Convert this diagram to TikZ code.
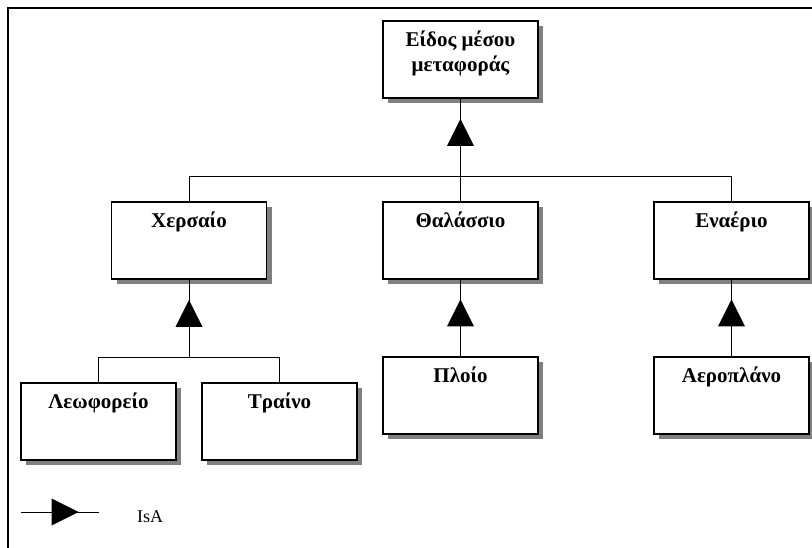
\documentclass[tikz,border=0pt]{standalone}
\usepackage{fontspec}
\setmainfont{Liberation Serif}
\usetikzlibrary{shapes.geometric,shadows,calc}

\tikzset{
  classbox/.style={draw=black, line width=1.2pt, fill=white,
    minimum width=155pt, minimum height=77pt, inner sep=0pt,
    drop shadow={shadow xshift=5pt, shadow yshift=-5pt, fill=black!50, opacity=1}},
  classname/.style={font=\bfseries\fontsize{21}{25}\selectfont, align=center, inner sep=0pt},
  nameline/.style={classname, anchor=base},
  isa/.style={isosceles triangle, isosceles triangle stretches, fill=black,
    inner sep=0pt, minimum width=27pt, minimum height=27pt, shape border rotate=90},
  link/.style={draw=black, line width=1pt},
}

\begin{document}
\begin{tikzpicture}[x=1pt,y=-1pt]
\useasboundingbox (0,0) rectangle (812,548);

% frame
\draw[line width=1.5pt] (8,548) -- (8,8) -- (812,8);

% classes
\node[classbox] (vehicle) at (460.5,59.5) {};
\node[classname] (vehicleT) at ([yshift=-33pt]vehicle.north) {Είδος μέσου\\μεταφοράς};

\node[classbox] (land) at (189,240.5) {};
\node[nameline] (landT) at ([yshift=-26pt]land.north) {Χερσαίο};
\node[classbox] (sea) at (460.5,240.5) {};
\node[nameline] (seaT) at ([yshift=-26pt]sea.north) {Θαλάσσιο};
\node[classbox] (air) at (731.5,240.5) {};
\node[nameline] (airT) at ([yshift=-26pt]air.north) {Εναέριο};

\node[classbox] (bus) at (98.5,421.5) {};
\node[nameline] (busT) at ([yshift=-26pt]bus.north) {Λεωφορείο};
\node[classbox] (train) at (279.5,421.5) {};
\node[nameline] (trainT) at ([yshift=-26pt]train.north) {Τραίνο};
\node[classbox] (ship) at (460.5,395.5) {};
\node[nameline] (shipT) at ([yshift=-26pt]ship.north) {Πλοίο};
\node[classbox] (plane) at (731.5,395.5) {};
\node[nameline] (planeT) at ([yshift=-26pt]plane.north) {Αεροπλάνο};

% IsA links
\coordinate (j1) at ($(vehicle.south)+(0,78)$);
\draw[link] (vehicle.south) -- node[isa] (t1) {} (j1);
\draw[link] (land.north) |- (j1) -| (air.north);
\draw[link] (j1) -- (sea.north);

\coordinate (j2) at ($(land.south)+(0,78)$);
\draw[link] (land.south) -- node[isa] (t2) {} (j2);
\draw[link] (bus.north) |- (j2) -| (train.north);

\draw[link] (sea.south) -- node[isa] (t3) {} (ship.north);
\draw[link] (air.south) -- node[isa] (t4) {} (plane.north);

% legend
\coordinate (la) at (21,512);
\coordinate (lb) at (99,512);
\draw[link] (la) -- node[isa, shape border rotate=0] (tl) {} (lb);
\node[font=\fontsize{18}{20}\selectfont, anchor=west, inner sep=0pt] (isaT) at (137,517) {IsA};
\end{tikzpicture}
\end{document}
